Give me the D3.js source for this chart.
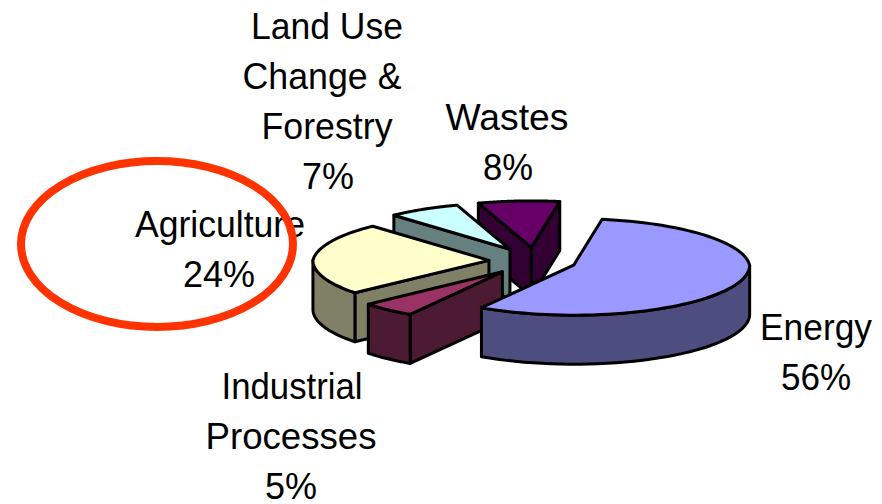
<!DOCTYPE html>
<html><head><meta charset="utf-8">
<script src="https://cdn.jsdelivr.net/npm/d3@7"></script>
<style>html,body{margin:0;padding:0;background:#fff}svg{display:block}
text{font-family:"Liberation Sans",Arial,sans-serif;font-size:36px;fill:#000;text-anchor:middle}</style>
</head><body><svg width="882" height="504"></svg>
<script>
const categories = ["Energy","Industrial Processes","Agriculture","Land Use Change & Forestry","Wastes"];
const values = [56,5,24,7,8];
const topColors = ["#9999ff","#993366","#ffffcc","#ccffff","#660066"];
const sideColors = ["#4d4d80","#4d1a33","#808066","#668080","#330033"];
const explode = [0.235,0.285,0.262,0.273,0.273];
const labelLines = [["Energy"],["Industrial","Processes"],["Agriculture"],["Land Use","Change &","Forestry"],["Wastes"]];
const labelCx = [[816,816],[292,291,291],[220,219],[327,322,327,328],[507,508]];
const labelWidths = [[112,70],[141,171,52],[170,72],[152,159,131,52],[123,50]];
const labelY = [340,399,237,39,130];

const W=882,H=504, cx=535, cy=261, rx=176, ry=50, depth=49, lh=50, backShrink=0.07;
const deg=Math.PI/180;
const svg=d3.select("svg");
const sx=d3.scaleLinear().domain([-1,1]).range([-rx,rx]);
const sy=d3.scaleLinear().domain([-1,1]).range([-ry,ry]);
const pie=d3.pie().sort(null).startAngle(10*deg).endAngle(370*deg)(values);
const line=d3.line();
// unit circle to ground plane, with the far half slightly foreshortened
const offset=a=>{
  const u=Math.sin(a),v=-Math.cos(a),k=v<0?1+backShrink*v:1;
  return [sx(u*k),sy(v*k)];
};
const proj=(c,a)=>{const o=offset(a);return [c[0]+o[0],c[1]+o[1]];};
const drop=p=>[p[0],p[1]+depth];
const style=(s,fill)=>s.attr("fill",fill).attr("stroke","#000").attr("stroke-width",3).attr("stroke-linejoin","round");

pie.map((d,i)=>({d,i})).reverse().forEach(({d,i})=>{
  const mid=(d.startAngle+d.endAngle)/2;
  const off=[sx(Math.sin(mid)),sy(-Math.cos(mid))];
  const c=[cx+off[0]*explode[i],cy+off[1]*explode[i]];
  const g=svg.append("g");
  const p0=proj(c,d.startAngle),p1=proj(c,d.endAngle);
  [[c,p0],[p1,c]].forEach(([a,b])=>{
    if(b[0]-a[0]<0) style(g.append("path").attr("d",line([a,b,drop(b),drop(a)])+"Z"),sideColors[i]);
  });
  const a0=Math.max(d.startAngle,90*deg),a1=Math.min(d.endAngle,270*deg);
  if(a1>a0){
    const pts=d3.range(41).map(k=>proj(c,a0+(a1-a0)*k/40));
    style(g.append("path").attr("d",line(pts.concat(pts.slice().reverse().map(drop)))+"Z"),sideColors[i]);
  }
  const rim=d3.range(81).map(k=>proj(c,d.startAngle+(d.endAngle-d.startAngle)*k/80));
  style(g.append("path").attr("d",line([c].concat(rim))+"Z"),topColors[i]);
});

categories.forEach((name,i)=>{
  const lines=labelLines[i].concat([values[i]+"%"]);
  const t=svg.append("text").attr("data-name",name);
  lines.forEach((l,k)=>t.append("tspan")
    .attr("x",labelCx[i][k]).attr("y",labelY[i]+k*lh)
    .attr("textLength",labelWidths[i][k]).attr("lengthAdjust","spacingAndGlyphs").text(l));
});

svg.append("ellipse").attr("cx",157).attr("cy",244).attr("rx",136).attr("ry",83)
  .attr("fill","none").attr("stroke","#ff3300").attr("stroke-width",8);
</script></body></html>
